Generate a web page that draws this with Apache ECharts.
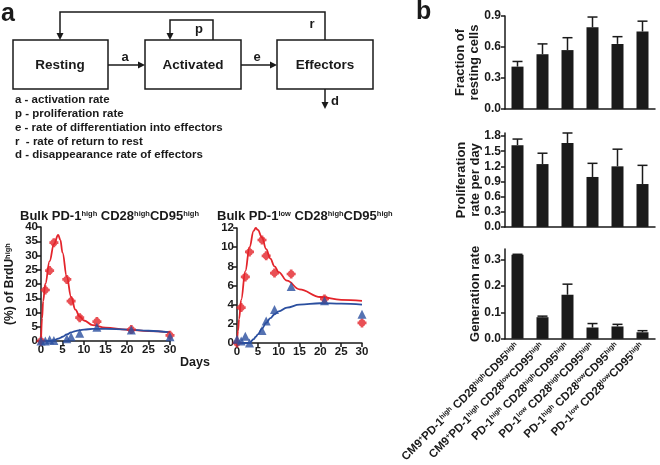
<!DOCTYPE html>
<html>
<head>
<meta charset="utf-8">
<script src="https://cdn.jsdelivr.net/npm/echarts@6/dist/echarts.min.js"></script>
</head>
<body style="margin:0">
<div id="container" style="width:660px;height:465px"></div>
<script>
// BrdU time course, measured points
var days = [0, 1, 2, 3, 6, 7, 9, 13, 21, 30];
var hiRed = [0, 17.9, 24.7, 34.5, 21.6, 14.0, 8.2, 6.8, 4.0, 2.0];
var hiBlue = [0, 0, 0.4, 0.2, 0.8, 1.5, 2.7, 4.8, 3.9, 1.5];
var loRed = [0, 3.7, 6.9, 9.5, 10.75, 9.1, 7.3, 7.2, 4.6, 2.1];
var loBlue = [0.4, 0.2, 0.7, 0, 1.3, 2.3, 3.5, 5.9, 4.4, 3.0];

// fitted curves
var fitDays = [0, 0.25, 0.5, 1, 2, 3, 4, 4.5, 5, 6, 7, 8, 9, 10, 12, 15, 20, 25, 30];
var hiRedFit = [0, 8, 14, 20, 28, 34, 37.2, 35.5, 31, 22.5, 15.5, 11, 8.6, 7.2, 5.6, 4.7, 4.0, 3.5, 3.1];
var hiBlueFit = [0, 0, 0, 0, 0, 0.3, 0.8, 1.1, 1.5, 2.3, 3.0, 3.5, 3.8, 4.0, 4.25, 4.3, 4.0, 3.6, 3.0];
var loRedFit = [0, 1.3, 2.5, 4.5, 7.5, 10, 11.7, 12, 11.8, 11, 9.8, 8.8, 8.0, 7.4, 6.5, 5.6, 4.8, 4.5, 4.4];
var loBlueFit = [0, 0, 0, 0, 0, 0, 0.4, 0.65, 0.9, 1.5, 2.1, 2.6, 3.0, 3.3, 3.7, 4.0, 4.15, 4.1, 4.0];

// panel b
var subsets = [
  'CM9<+>PD-1<high> CD28<high>CD95<high>',
  'CM9<+>PD-1<high> CD28<low>CD95<high>',
  'PD-1<high> CD28<high>CD95<high>',
  'PD-1<low> CD28<high>CD95<high>',
  'PD-1<high> CD28<low>CD95<high>',
  'PD-1<low> CD28<low>CD95<high>'
];
var restFrac = [0.41, 0.53, 0.57, 0.79, 0.63, 0.75];
var restFracHi = [0.46, 0.63, 0.69, 0.89, 0.70, 0.85];
var prolif = [1.62, 1.245, 1.66, 0.99, 1.2, 0.85];
var prolifHi = [1.74, 1.46, 1.86, 1.26, 1.54, 1.22];
var genRate = [0.318, 0.082, 0.167, 0.043, 0.047, 0.025];
var genRateHi = [0.32, 0.086, 0.207, 0.058, 0.055, 0.031];

var RED = '#e3242b', BLUE = '#2b4f9f', INK = '#1a1a1a';
var FONT = 'Liberation Sans';

// plus with an x over it
var crossPath = 'path://M3.5,0H6.5V3.5H10V6.5H6.5V10H3.5V6.5H0V3.5H3.5Z' +
  'M6.98,1.32L8.68,3.02L6.7,5L8.68,6.98L6.98,8.68L5,6.7L3.02,8.68L1.32,6.98L3.3,5L1.32,3.02L3.02,1.32L5,3.3Z';

function sup(str) {
  return '{n|' + str.replace(/<([^>]*)>/g, '}{s|$1}{n|') + '}';
}
function richTxt(size, supSize) {
  return {
    n: {fontSize: size, fontWeight: 'bold', fontFamily: FONT, color: INK},
    s: {fontSize: supSize, fontWeight: 'bold', fontFamily: FONT, color: INK, verticalAlign: 'top'}
  };
}
function zip(xs, ys) {
  return xs.map(function (x, i) { return [x, ys[i]]; });
}

var axLine = {lineStyle: {color: INK, width: 1.5}};
var axTick = {length: 4, lineStyle: {color: INK, width: 1.5}};
var bold = {color: INK, fontWeight: 'bold', fontFamily: FONT};

function lineX(gi) {
  return {type: 'value', gridIndex: gi, min: 0, max: 30, interval: 5,
    axisLine: axLine, axisTick: axTick, splitLine: {show: false},
    axisLabel: Object.assign({fontSize: 11.5, margin: 3}, bold)};
}
function lineY(gi, max, step) {
  return {type: 'value', gridIndex: gi, min: 0, max: max, interval: step,
    axisLine: axLine, axisTick: axTick, splitLine: {show: false},
    axisLabel: Object.assign({fontSize: 11.5, margin: 3}, bold)};
}
function barX(gi, showLabels) {
  return {type: 'category', gridIndex: gi, data: subsets,
    axisLine: axLine, axisTick: {alignWithLabel: true, length: 5, lineStyle: {color: INK, width: 1.5}},
    axisLabel: showLabels ? {rotate: 45, margin: 6, interval: 0, formatter: sup, rich: richTxt(11.5, 7)} : {show: false}};
}
function barY(gi, max, ticks, name, gap) {
  return {type: 'value', gridIndex: gi, min: 0, max: max,
    axisLine: {show: true, lineStyle: {color: INK, width: 1.5}},
    axisTick: {show: true, length: 4, customValues: ticks, lineStyle: {color: INK, width: 1.5}},
    axisLabel: Object.assign({fontSize: 12, margin: 4, customValues: ticks,
      formatter: function (v) { return v.toFixed(1); }}, bold),
    splitLine: {show: false},
    name: name, nameLocation: 'middle', nameRotate: 90, nameGap: gap, nameMoveOverlap: false,
    nameTextStyle: Object.assign({fontSize: 13, lineHeight: 14}, bold)};
}
function lineSeries(gi, xs, ys, color) {
  return {type: 'line', xAxisIndex: gi, yAxisIndex: gi, data: zip(xs, ys),
    smooth: 0.4, smoothMonotone: 'x', showSymbol: false, z: 2,
    lineStyle: {color: color, width: 1.8}};
}
function dotSeries(gi, ys, color, symbol) {
  return {type: 'scatter', xAxisIndex: gi, yAxisIndex: gi, data: zip(days, ys),
    symbol: symbol, symbolSize: 9, z: 3, itemStyle: {color: color}};
}
function barSeries(gi, vals) {
  return {type: 'bar', xAxisIndex: gi, yAxisIndex: gi, data: vals,
    barWidth: 12, itemStyle: {color: INK}};
}
function errSeries(gi, vals, hi) {
  return {type: 'custom', xAxisIndex: gi, yAxisIndex: gi, z: 3,
    data: vals.map(function (v, i) { return [i, v, hi[i]]; }),
    encode: {x: 0, y: [1, 2]},
    renderItem: function (params, api) {
      var p0 = api.coord([api.value(0), api.value(1)]);
      var p1 = api.coord([api.value(0), api.value(2)]);
      var st = {stroke: INK, lineWidth: 1.5};
      return {type: 'group', children: [
        {type: 'line', shape: {x1: p0[0], y1: p0[1], x2: p1[0], y2: p1[1]}, style: st},
        {type: 'line', shape: {x1: p1[0] - 5, y1: p1[1], x2: p1[0] + 5, y2: p1[1]}, style: st}
      ]};
    }};
}

// ---- model diagram (panel a, top) ----
function txt(s, x, y, size, align) {
  return {type: 'text', style: {text: s, x: x, y: y, fill: INK,
    font: 'bold ' + size + 'px "' + FONT + '"', textAlign: align || 'center', textVerticalAlign: 'middle'}};
}
function box(x, y, w, h) {
  return {type: 'rect', shape: {x: x, y: y, width: w, height: h},
    style: {fill: '#fff', stroke: INK, lineWidth: 1.5}};
}
function path(pts) {
  return {type: 'polyline', shape: {points: pts}, style: {stroke: INK, lineWidth: 1.5, fill: null}};
}
function head(x, y, dir) {
  var pts = dir === 'right' ? [[x, y], [x - 7, y - 3.5], [x - 7, y + 3.5]]
                            : [[x, y], [x - 3.5, y - 7], [x + 3.5, y - 7]];
  return {type: 'polygon', shape: {points: pts}, style: {fill: INK}};
}
var legendLines = [
  'a - activation rate',
  'p - proliferation rate',
  'e - rate of differentiation into effectors',
  'r  - rate of return to rest',
  'd - disappearance rate of effectors'
];
var diagram = [
  txt('a', 1, 14, 25, 'left'),
  txt('b', 416, 12, 25, 'left'),
  box(13, 40, 95, 49), box(145, 40, 96, 49), box(277, 40, 96, 49),
  txt('Resting', 60, 65, 13.5), txt('Activated', 193, 65, 13.5), txt('Effectors', 325, 65, 13.5),
  path([[108, 65], [139, 65]]), head(145, 65, 'right'), txt('a', 125, 57, 13),
  path([[241, 65], [271, 65]]), head(277, 65, 'right'), txt('e', 257, 57, 13),
  path([[213, 40], [213, 20], [170, 20], [170, 34]]), head(170, 40, 'down'), txt('p', 199, 29, 13),
  path([[325, 40], [325, 12], [60, 12], [60, 34]]), head(60, 40, 'down'), txt('r', 312, 24, 13),
  path([[325, 89], [325, 103]]), head(325, 109, 'down'), txt('d', 335, 101, 13),
  txt('Days', 195, 363, 12.5)
];
legendLines.forEach(function (s, i) {
  diagram.push(txt(s, 15, 100 + i * 13.8, 11.5, 'left'));
});

var chart = echarts.init(document.getElementById('container'));
chart.setOption({
  animation: false,
  backgroundColor: '#fff',
  textStyle: {fontFamily: FONT},
  title: [
    {text: sup('Bulk PD-1<high> CD28<high>CD95<high>'), left: 15, top: 205,
      textStyle: {rich: richTxt(13, 7.5)}},
    {text: sup('Bulk PD-1<low> CD28<high>CD95<high>'), left: 212, top: 205,
      textStyle: {rich: richTxt(13, 7.5)}}
  ],
  grid: [
    {left: 41, top: 227, width: 129, height: 114},
    {left: 237, top: 228, width: 125, height: 115},
    {left: 505, top: 16, width: 150, height: 93},
    {left: 505, top: 133, width: 150, height: 94},
    {left: 505, top: 249, width: 150, height: 95}
  ],
  xAxis: [lineX(0), lineX(1), barX(2, false), barX(3, false), barX(4, true)],
  yAxis: [
    Object.assign(lineY(0, 40, 5), {name: sup('(%) of BrdU<high>'), nameLocation: 'middle',
      nameRotate: 90, nameGap: 25, nameTextStyle: {rich: richTxt(12, 7.5)}}),
    lineY(1, 12, 2),
    barY(2, 0.9, [0, 0.3, 0.6, 0.9], 'Fraction of\nresting cells', 24),
    barY(3, 1.86, [0, 0.3, 0.6, 0.9, 1.2, 1.5, 1.8], 'Proliferation\nrate per day', 23),
    barY(4, 0.34, [0, 0.1, 0.2, 0.3], 'Generation rate', 22.5)
  ],
  series: [
    lineSeries(0, fitDays, hiRedFit, RED), lineSeries(0, fitDays, hiBlueFit, BLUE),
    dotSeries(0, hiRed, RED, crossPath), dotSeries(0, hiBlue, BLUE, 'triangle'),
    lineSeries(1, fitDays, loRedFit, RED), lineSeries(1, fitDays, loBlueFit, BLUE),
    dotSeries(1, loRed, RED, crossPath), dotSeries(1, loBlue, BLUE, 'triangle'),
    barSeries(2, restFrac), errSeries(2, restFrac, restFracHi),
    barSeries(3, prolif), errSeries(3, prolif, prolifHi),
    barSeries(4, genRate), errSeries(4, genRate, genRateHi)
  ],
  graphic: {elements: diagram}
});
</script>
</body>
</html>
